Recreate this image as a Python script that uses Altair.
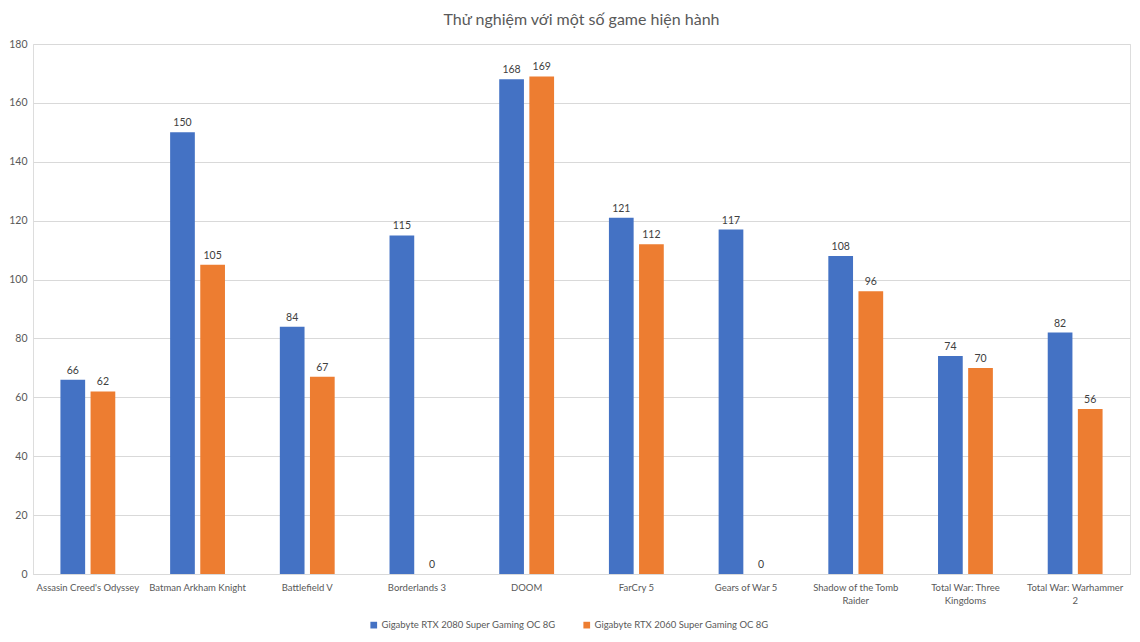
import altair as alt
import pandas as pd

games = [
    "Assasin Creed's Odyssey",
    "Batman Arkham Knight",
    "Battlefield V",
    "Borderlands 3",
    "DOOM",
    "FarCry 5",
    "Gears of War 5",
    "Shadow of the Tomb Raider",
    "Total War: Three Kingdoms",
    "Total War: Warhammer 2",
]
series = ["Gigabyte RTX 2080 Super Gaming OC 8G", "Gigabyte RTX 2060 Super Gaming OC 8G"]
rtx2080 = [66, 150, 84, 115, 168, 121, 117, 108, 74, 82]
rtx2060 = [62, 105, 67, 0, 169, 112, 0, 96, 70, 56]
colors = ["#4472C4", "#ED7D31"]

rows = []
for g, a, b in zip(games, rtx2080, rtx2060):
    rows.append({"game": g, "series": series[0], "value": a})
    rows.append({"game": g, "series": series[1], "value": b})
df = pd.DataFrame(rows)

FONT = "Lato"
GRAY = "#595959"

label_expr = (
    "datum.value == 'Shadow of the Tomb Raider' ? ['Shadow of the Tomb', 'Raider'] : "
    "datum.value == 'Total War: Three Kingdoms' ? ['Total War: Three', 'Kingdoms'] : "
    "datum.value == 'Total War: Warhammer 2' ? ['Total War: Warhammer', '2'] : datum.value"
)

x = alt.X(
    "game:N",
    sort=games,
    title=None,
    scale=alt.Scale(paddingInner=0.5, paddingOuter=0.25),
    axis=alt.Axis(
        labelAngle=0,
        labelExpr=label_expr,
        labelFont=FONT,
        labelFontSize=9.5,
        labelColor=GRAY,
        ticks=False,
        domainColor="#D9D9D9",
        labelPadding=8,
        labelLineHeight=13,
        labelLimit=0,
    ),
)
xoff = alt.XOffset("series:N", sort=series, scale=alt.Scale(paddingInner=0.18))
y = alt.Y(
    "value:Q",
    title=None,
    scale=alt.Scale(domain=[0, 180]),
    axis=alt.Axis(
        values=list(range(0, 181, 20)),
        labelFont=FONT,
        labelFontSize=10.5,
        labelColor=GRAY,
        ticks=False,
        domain=False,
        gridColor="#D9D9D9",
        labelPadding=6,
    ),
)

bars = alt.Chart(df).mark_bar().encode(
    x=x,
    xOffset=xoff,
    y=y,
    color=alt.Color(
        "series:N",
        sort=series,
        scale=alt.Scale(domain=series, range=colors),
        legend=alt.Legend(
            title=None,
            orient="none",
            legendX=336,
            legendY=576,
            direction="horizontal",
            symbolType="square",
            symbolSize=45,
            labelFont=FONT,
            labelFontSize=9.5,
            labelColor=GRAY,
            labelLimit=0,
            columnPadding=26,
            labelOffset=3,
        ),
    ),
)

labels = alt.Chart(df).mark_text(dy=-9, font=FONT, fontSize=10.5, color="#404040").encode(
    x=x,
    xOffset=xoff,
    y=y,
    text="value:Q",
)

chart = (
    alt.layer(bars, labels)
    .properties(
        width=1097,
        height=530,
        padding={"left": 0, "top": 4, "right": 2, "bottom": 0},
        title=alt.TitleParams(
            "Thử nghiệm với một số game hiện hành",
            font=FONT,
            fontSize=16,
            fontWeight="normal",
            color=GRAY,
            offset=11,
        ),
    )
    .configure_view(stroke=None)
    .configure(background="white")
)

chart.save("out.html", embed_options={"renderer": "svg", "actions": False})
